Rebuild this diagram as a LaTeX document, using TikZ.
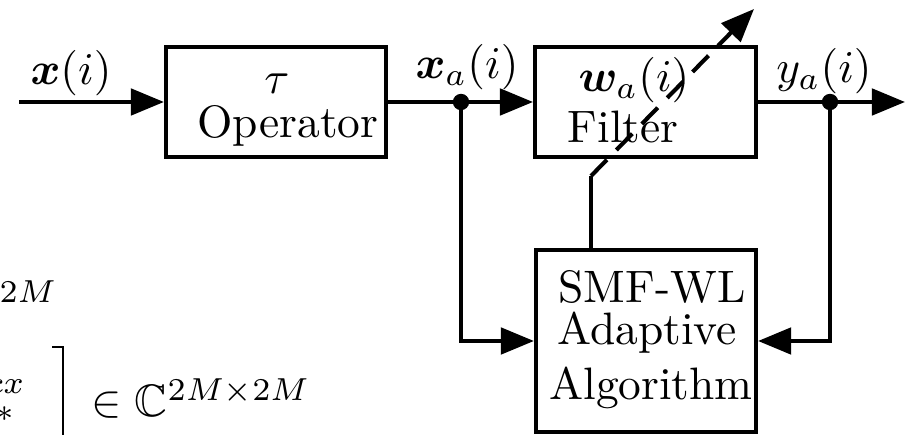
\documentclass[tikz,border=0pt]{standalone}
\usepackage{amsmath,amssymb,bm}
\usetikzlibrary{arrows.meta}
\tikzset{
  blk/.style={draw, line width=0.9pt, inner sep=0pt},
  wire/.style={line width=0.9pt},
  arr/.style={wire, -{Triangle[length=7.3pt,width=5.8pt]}},
  lbl/.style={inner sep=0pt, anchor=base},
  junc/.style={circle, fill, inner sep=0pt, minimum size=3.6pt},
  adj/.style={wire, dash pattern=on 5pt off 3pt, -{Triangle[length=7.3pt,width=5.8pt]}},
  frag/.style={inner sep=0pt},
}
\begin{document}
\begin{tikzpicture}[x=0.22pt,y=-0.22pt]
\useasboundingbox (0,0) rectangle (910,435);
\clip (0,0) rectangle (910,435);
% blocks
\node[blk, minimum width=48.4pt, minimum height=24.2pt] (op) at (276,102) {};
\node[blk, minimum width=48.6pt, minimum height=24.2pt] (filt) at (645.5,102) {};
\node[blk, minimum width=48.4pt, minimum height=40.0pt] (alg) at (646,341) {};
% block texts
\node[lbl] (tau) at (277,94) {$\tau$};
\node[lbl] (optext) at (288,138) {Operator};
\node[lbl] (wa) at (634,92) {$\bm{w}_a(i)$};
\node[lbl] (filttext) at (623,143) {Filter};
\node[lbl] (alg1) at (652,303) {SMF-WL};
\node[lbl] (alg2) at (647,345) {Adaptive};
\node[lbl] (alg3) at (651,400) {Algorithm};
% signal labels
\node[lbl] (xlab) at (71,85) {$\bm{x}(i)$};
\node[lbl] (xalab) at (467,79) {$\bm{x}_a(i)$};
\node[lbl] (yalab) at (824,83) {$y_a(i)$};
% coordinates
\coordinate (in) at (19,102);
\coordinate (out) at (905,102);
\coordinate (dstart) at (591,176);
\coordinate (dend) at (754,9);
% junctions
\node[junc] (j1) at (461,102) {};
\node[junc] (j2) at (830,102) {};
% connectors
\draw[arr] (in) -- (op.west);
\draw[arr] (op.east) -- (filt.west);
\draw[arr] (filt.east) -- (out);
\draw[arr] (j1.center) |- (alg.west);
\draw[arr] (j2.center) |- (alg.east);
\draw[wire] (alg.north -| dstart) -- (dstart);
\draw[adj] (dstart) -- (dend);
% cropped fragments of surrounding page
\node[frag, anchor=base east] (cfrag) at (59,319) {$\mathbb{C}^{2M}$};
\node[frag, anchor=base east] (cxfrag) at (25,394) {$\scriptstyle cx$};
\node[frag, anchor=base east] (starfrag) at (15,422) {$\scriptstyle *$};
\draw[line width=0.65pt] (52,347) -- (63,347) -- (63,440);
\node[frag, anchor=base west] (inC) at (91,417) {$\in\mathbb{C}^{2M\times 2M}$};
\end{tikzpicture}
\end{document}
